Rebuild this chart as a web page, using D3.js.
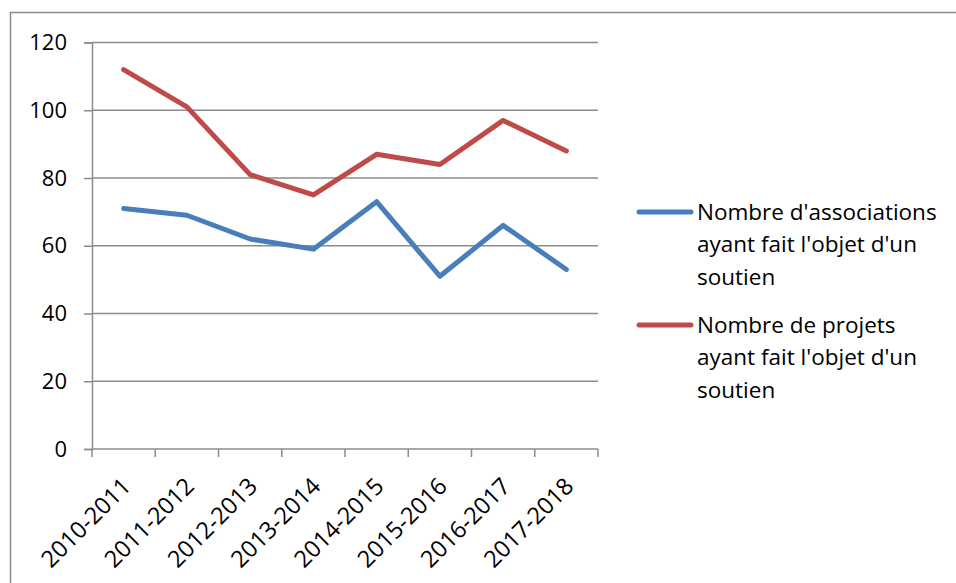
<!DOCTYPE html>
<html>
<head>
<meta charset="utf-8">
<script src="https://cdn.jsdelivr.net/npm/d3@7"></script>
<style>
  body { margin: 0; background: #fff; }
  svg { display: block; font-family: 'Open Sans', 'Liberation Sans', sans-serif; }
</style>
</head>
<body>
<div class="visHolder"></div>
<script>
var categories = ['2010-2011', '2011-2012', '2012-2013', '2013-2014',
  '2014-2015', '2015-2016', '2016-2017', '2017-2018'];
var associations = [71, 69, 62, 59, 73, 51, 66, 53];
var projets = [112, 101, 81, 75, 87, 84, 97, 88];
var yTicks = [0, 20, 40, 60, 80, 100, 120];
var seriesNames = [
  ["Nombre d'associations", "ayant fait l'objet d'un", 'soutien'],
  ['Nombre de projets', "ayant fait l'objet d'un", 'soutien']
];
var colors = ['#4a7ebb', '#be4b48'];

var width = 956,
  height = 583;

var svg = d3
  .select('.visHolder')
  .append('svg')
  .attr('width', width)
  .attr('height', height);

// chart frame (runs off the right and bottom of the picture)
svg
  .append('rect')
  .attr('x', 10.5)
  .attr('y', 12.5)
  .attr('width', 960)
  .attr('height', 600)
  .attr('fill', 'none')
  .attr('stroke', '#8c8c8c')
  .attr('stroke-width', 1.5);

var plotLeft = 92,
  plotRight = 598,
  plotTop = 42.5,
  plotBottom = 449;

var xScale = d3.scaleBand().domain(categories).range([plotLeft, plotRight]);
var yScale = d3.scaleLinear().domain([0, 120]).range([plotBottom, plotTop]);

// gridlines
svg
  .append('g')
  .selectAll('line')
  .data(yTicks.filter(d => d > 0))
  .enter()
  .append('line')
  .attr('x1', plotLeft)
  .attr('x2', plotRight)
  .attr('y1', d => yScale(d))
  .attr('y2', d => yScale(d))
  .attr('stroke', '#8c8c8c')
  .attr('stroke-width', 1.5);

// y axis
var yAxis = d3.axisLeft(yScale).tickValues(yTicks).tickSize(8).tickPadding(17);
var gy = svg.append('g').attr('transform', 'translate(' + plotLeft + ',0)').call(yAxis);
gy.select('.domain').attr('stroke', '#8c8c8c').attr('stroke-width', 1.5);
gy.selectAll('.tick line').attr('stroke', '#8c8c8c').attr('stroke-width', 1.5);
gy.selectAll('.tick text')
  .attr('fill', '#000')
  .style('font-size', '22px')
  .style('font-family', "'Open Sans', sans-serif");

// x axis: ticks on band boundaries
var gx = svg.append('g');
gx.append('line')
  .attr('x1', plotLeft)
  .attr('x2', plotRight)
  .attr('y1', plotBottom)
  .attr('y2', plotBottom)
  .attr('stroke', '#8c8c8c')
  .attr('stroke-width', 1.5);
var bounds = categories.map(c => xScale(c)).concat([xScale.range()[1]]);
gx.selectAll('line.tk')
  .data(bounds)
  .enter()
  .append('line')
  .attr('class', 'tk')
  .attr('x1', d => d)
  .attr('x2', d => d)
  .attr('y1', plotBottom)
  .attr('y2', plotBottom + 8)
  .attr('stroke', '#8c8c8c')
  .attr('stroke-width', 1.5);
gx.selectAll('text')
  .data(categories)
  .enter()
  .append('text')
  .attr('transform', d =>
    'translate(' + (xScale(d) + xScale.bandwidth() / 2 - 3) + ',' + (plotBottom + 27) + ') rotate(-45)')
  .attr('text-anchor', 'end')
  .attr('dy', '0.7em')
  .style('font-size', '23.5px')
  .text(d => d);

// lines
var line = d3
  .line()
  .x((d, i) => xScale(categories[i]) + xScale.bandwidth() / 2)
  .y(d => yScale(d));

[associations, projets].forEach(function (values, k) {
  svg
    .append('path')
    .datum(values)
    .attr('d', line)
    .attr('fill', 'none')
    .attr('stroke', colors[k])
    .attr('stroke-width', 5)
    .attr('stroke-linejoin', 'round')
    .attr('stroke-linecap', 'round');
});

// legend
var legend = svg.append('g');
seriesNames.forEach(function (lines, k) {
  var y0 = 212 + k * 113;
  legend
    .append('line')
    .attr('x1', 639)
    .attr('x2', 691)
    .attr('y1', y0)
    .attr('y2', y0)
    .attr('stroke', colors[k])
    .attr('stroke-width', 5)
    .attr('stroke-linecap', 'round');
  lines.forEach(function (t, j) {
    legend
      .append('text')
      .attr('x', 697)
      .attr('y', y0 + j * 32.5)
      .attr('dy', '0.35em')
      .style('font-size', '22.5px')
      .text(t);
  });
});
</script>
</body>
</html>
